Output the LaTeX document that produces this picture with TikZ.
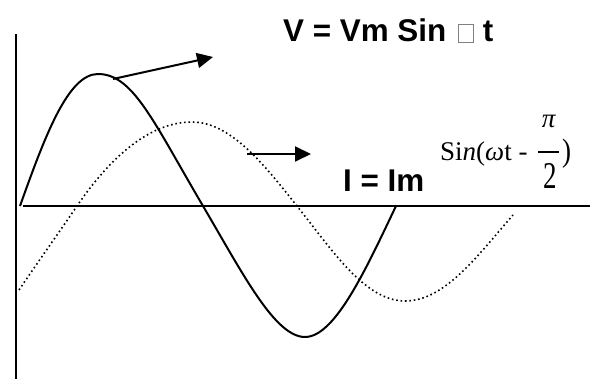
\documentclass[tikz,border=0pt]{standalone}
\usepackage{fontspec}
\usepackage{graphicx}
\setmainfont{Liberation Sans}
\newfontfamily\serifx{Liberation Serif}
\usetikzlibrary{arrows.meta}
\newcommand\glyphbox{{\color{gray}\fboxsep=0pt\fboxrule=1pt\fbox{\rule{0pt}{17pt}\hspace{14pt}}}}
\begin{document}
\begin{tikzpicture}[x=1pt,y=-1pt,
  axis/.style={line width=2pt},
  wave/.style={line width=2pt, line join=round},
  dotwave/.style={line width=1.6pt, dash pattern=on 1.6pt off 2.8pt},
  pointer/.style={line width=2pt, -{Triangle[length=16pt,width=15pt]}},
  lab/.style={font=\fontsize{31.4}{32}\selectfont\bfseries, inner sep=0pt, anchor=base west},
  eq/.style={font=\serifx\fontsize{27}{27}\selectfont, inner sep=0pt, anchor=base west},
  eqc/.style={font=\serifx\fontsize{27}{27}\selectfont, inner sep=0pt, anchor=base},
  fracbar/.style={line width=1.2pt}]
\useasboundingbox (0,0) rectangle (590,379);
% axes
\coordinate (ytop) at (16,34);
\coordinate (ybot) at (16,379);
\coordinate (xl) at (23,206);
\coordinate (xr) at (590,206);
\draw[axis] (ytop) -- (ybot);
\draw[axis] (xl) -- (xr);
% voltage (solid)
\draw[wave] (20,206) .. controls (45,136) and (68,74) .. (98,74)
  .. controls (133,74) and (153,121) .. (203,206)
  .. controls (243,274) and (275,337) .. (305,337)
  .. controls (335,337) and (366,269) .. (396,206);
% current (dotted)
\draw[dotwave] (19,290) .. controls (40,259) and (60,231) .. (77,206)
  .. controls (107,162) and (147,122) .. (192,122)
  .. controls (232,122) and (267,168.5) .. (297,206)
  .. controls (332,250) and (365,301) .. (405,301)
  .. controls (445,301) and (478,255) .. (513,215);
% pointers
\coordinate (vs) at (113,79);
\coordinate (ve) at (213,57);
\coordinate (is) at (247,154);
\coordinate (ie) at (311,154);
\draw[pointer] (vs) -- (ve);
\draw[pointer] (is) -- (ie);
% labels
\node[lab] (vlab) at (283,42) {V = Vm Sin \hspace{3pt}\glyphbox{} t};
\node[lab] (ilab) at (343,192) {I = Im};
% current formula
\node[eq] (eqa) at (440,161) {Si\textit{n}(\textit{ω}t -};
\node[eqc] (num) at (549,128) {\textit{π}};
\node[eqc] (den) at (550,189) {\scalebox{1}[1.4]{2}};
\coordinate (barl) at (538,152);
\coordinate (barr) at (559,152);
\draw[fracbar] (barl) -- (barr);
\node[eq] (paren) at (562,162) {\scalebox{1}[1.2]{)}};
\end{tikzpicture}
\end{document}
